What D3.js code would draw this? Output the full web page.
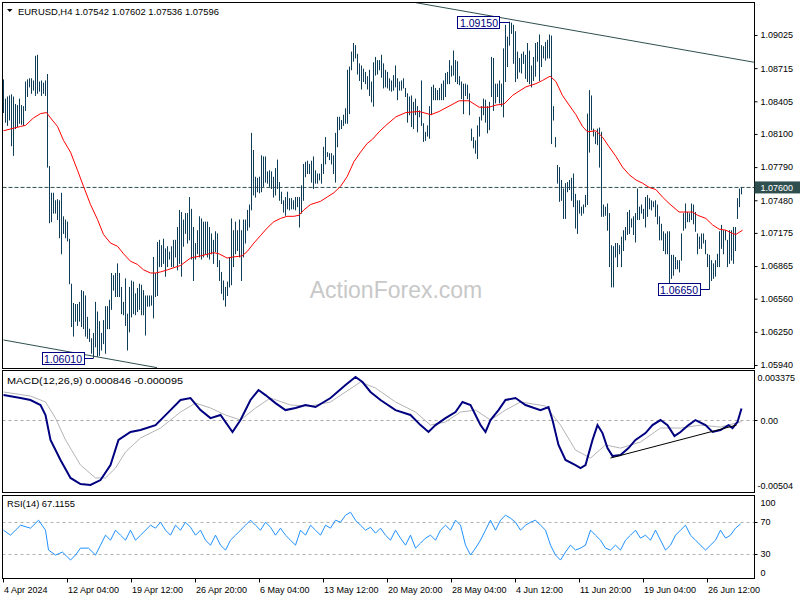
<!DOCTYPE html>
<html><head><meta charset="utf-8">
<script src="https://cdn.jsdelivr.net/npm/d3@7/dist/d3.min.js"></script>
<style>
html,body{margin:0;padding:0;background:#fff;}
svg{display:block;}
text{font-family:"Liberation Sans",Arial,sans-serif;}
</style></head>
<body>
<svg id="chart" width="800" height="600"></svg>
<script>
// ---------- DATA ----------
const symbolTitle = "EURUSD,H4";
const lastOHLC = ["1.07542","1.07602","1.07536","1.07596"];
const highs = [
1.0861,1.0843,1.0845,1.0846,1.0847,1.0845,1.0838,1.0837,1.0843,1.0837,
1.0836,1.0859,1.0861,1.0862,1.0862,1.0860,1.0883,1.0884,1.0859,1.0860,
1.0858,1.0860,1.0866,1.0780,1.0755,1.0755,1.0748,1.0749,1.0748,1.0755,
1.0733,1.0730,1.0728,1.0712,1.0670,1.0652,1.0651,1.0651,1.0653,1.0664,
1.0663,1.0659,1.0639,1.0628,1.0619,1.0624,1.0653,1.0644,1.0635,1.0624,
1.0636,1.0649,1.0649,1.0655,1.0680,1.0678,1.0680,1.0689,1.0680,1.0667,
1.0653,1.0675,1.0642,1.0667,1.0673,1.0672,1.0661,1.0666,1.0670,1.0669,
1.0664,1.0659,1.0659,1.0659,1.0659,1.0695,1.0680,1.0709,1.0711,1.0706,
1.0712,1.0703,1.0705,1.0700,1.0705,1.0711,1.0711,1.0723,1.0739,1.0737,
1.0730,1.0736,1.0736,1.0751,1.0740,1.0723,1.0708,1.0720,1.0733,1.0731,
1.0728,1.0728,1.0728,1.0723,1.0717,1.0711,1.0719,1.0717,1.0692,1.0681,
1.0673,1.0667,1.0672,1.0695,1.0731,1.0720,1.0728,1.0720,1.0730,1.0720,
1.0730,1.0730,1.0739,1.0744,1.0811,1.0795,1.0770,1.0769,1.0770,1.0790,
1.0789,1.0789,1.0775,1.0776,1.0775,1.0770,1.0778,1.0786,1.0765,1.0756,
1.0748,1.0751,1.0756,1.0750,1.0750,1.0748,1.0751,1.0751,1.0751,1.0762,
1.0782,1.0784,1.0785,1.0782,1.0785,1.0789,1.0776,1.0773,1.0773,1.0782,
1.0798,1.0807,1.0793,1.0792,1.0792,1.0790,1.0811,1.0826,1.0826,1.0823,
1.0828,1.0834,1.0870,1.0873,1.0887,1.0895,1.0893,1.0885,1.0876,1.0874,
1.0871,1.0868,1.0864,1.0870,1.0859,1.0877,1.0882,1.0879,1.0879,1.0884,
1.0876,1.0870,1.0868,1.0862,1.0860,1.0865,1.0874,1.0862,1.0859,1.0860,
1.0862,1.0853,1.0848,1.0845,1.0846,1.0840,1.0843,1.0836,1.0832,1.0860,
1.0820,1.0812,1.0818,1.0836,1.0854,1.0856,1.0853,1.0851,1.0853,1.0857,
1.0860,1.0867,1.0868,1.0879,1.0874,1.0888,1.0879,1.0878,1.0864,1.0859,
1.0857,1.0857,1.0856,1.0848,1.0815,1.0807,1.0804,1.0818,1.0826,1.0836,
1.0843,1.0842,1.0836,1.0840,1.0882,1.0881,1.0857,1.0857,1.0860,1.0857,
1.0890,1.0912,1.0901,1.0915,1.0914,1.0912,1.0906,1.0887,1.0881,1.0885,
1.0887,1.0884,1.0895,1.0888,1.0874,1.0882,1.0895,1.0896,1.0903,1.0893,
1.0892,1.0896,1.0898,1.0903,1.0902,1.0836,1.0807,1.0781,1.0779,1.0767,
1.0759,1.0764,1.0765,1.0767,1.0769,1.0773,1.0754,1.0748,1.0748,1.0742,
1.0744,1.0753,1.0829,1.0851,1.0846,1.0815,1.0812,1.0815,1.0816,1.0812,
1.0744,1.0742,1.0745,1.0736,1.0706,1.0705,1.0708,1.0708,1.0706,1.0714,
1.0720,1.0723,1.0737,1.0739,1.0731,1.0733,1.0736,1.0759,1.0742,1.0744,
1.0740,1.0751,1.0753,1.0750,1.0748,1.0747,1.0748,1.0744,1.0733,1.0726,
1.0719,1.0717,1.0719,1.0719,1.0697,1.0697,1.0695,1.0692,1.0692,1.0717,
1.0736,1.0745,1.0737,1.0736,1.0745,1.0744,1.0737,1.0717,1.0714,1.0717,
1.0717,1.0711,1.0698,1.0697,1.0692,1.0689,1.0692,1.0698,1.0719,1.0725,
1.0720,1.0720,1.0711,1.0720,1.0720,1.0723,1.0723,1.0750,1.0759,1.0760];
const lows = [
1.0830,1.0821,1.0818,1.0823,1.0799,1.0790,1.0815,1.0817,1.0820,1.0819,
1.0818,1.0832,1.0845,1.0854,1.0848,1.0851,1.0846,1.0848,1.0850,1.0846,
1.0848,1.0846,1.0779,1.0727,1.0728,1.0736,1.0736,1.0730,1.0713,1.0698,
1.0717,1.0713,1.0710,1.0670,1.0630,1.0621,1.0635,1.0631,1.0635,1.0630,
1.0628,1.0621,1.0619,1.0616,1.0605,1.0601,1.0611,1.0602,1.0603,1.0608,
1.0614,1.0605,1.0628,1.0628,1.0646,1.0664,1.0658,1.0658,1.0658,1.0642,
1.0641,1.0631,1.0608,1.0625,1.0639,1.0642,1.0641,1.0644,1.0646,1.0641,
1.0641,1.0622,1.0649,1.0649,1.0650,1.0638,1.0658,1.0659,1.0686,1.0686,
1.0689,1.0677,1.0686,1.0693,1.0686,1.0686,1.0695,1.0683,1.0689,1.0677,
1.0705,1.0717,1.0708,1.0711,1.0693,1.0673,1.0693,1.0698,1.0695,1.0693,
1.0695,1.0698,1.0695,1.0693,1.0698,1.0689,1.0700,1.0686,1.0673,1.0661,
1.0655,1.0649,1.0659,1.0667,1.0669,1.0686,1.0698,1.0701,1.0695,1.0673,
1.0695,1.0708,1.0720,1.0723,1.0739,1.0753,1.0751,1.0756,1.0755,1.0756,
1.0761,1.0765,1.0764,1.0761,1.0759,1.0751,1.0753,1.0759,1.0748,1.0745,
1.0737,1.0734,1.0740,1.0739,1.0740,1.0740,1.0739,1.0742,1.0723,1.0736,
1.0748,1.0770,1.0773,1.0773,1.0765,1.0759,1.0764,1.0764,1.0767,1.0764,
1.0773,1.0782,1.0789,1.0786,1.0782,1.0773,1.0765,1.0798,1.0814,1.0815,
1.0818,1.0820,1.0820,1.0829,1.0870,1.0878,1.0881,1.0866,1.0860,1.0852,
1.0859,1.0857,1.0852,1.0846,1.0840,1.0836,1.0865,1.0866,1.0870,1.0863,
1.0853,1.0854,1.0853,1.0851,1.0850,1.0851,1.0854,1.0842,1.0851,1.0851,
1.0853,1.0845,1.0821,1.0828,1.0817,1.0815,1.0828,1.0812,1.0826,1.0818,
1.0803,1.0804,1.0808,1.0806,1.0828,1.0842,1.0842,1.0842,1.0842,1.0842,
1.0842,1.0845,1.0857,1.0857,1.0864,1.0865,1.0859,1.0857,1.0856,1.0843,
1.0829,1.0846,1.0843,1.0828,1.0804,1.0797,1.0792,1.0787,1.0808,1.0823,
1.0828,1.0821,1.0811,1.0814,1.0845,1.0832,1.0839,1.0845,1.0839,1.0836,
1.0826,1.0859,1.0873,1.0893,1.0904,1.0876,1.0859,1.0862,1.0868,1.0867,
1.0876,1.0862,1.0859,1.0857,1.0854,1.0860,1.0864,1.0878,1.0860,1.0873,
1.0881,1.0879,1.0881,1.0881,1.0801,1.0823,1.0798,1.0764,1.0747,1.0748,
1.0731,1.0731,1.0756,1.0758,1.0748,1.0742,1.0722,1.0717,1.0736,1.0734,
1.0736,1.0742,1.0744,1.0793,1.0814,1.0808,1.0801,1.0800,1.0779,1.0733,
1.0733,1.0734,1.0720,1.0686,1.0667,1.0667,1.0695,1.0686,1.0698,1.0686,
1.0701,1.0711,1.0716,1.0717,1.0723,1.0716,1.0709,1.0730,1.0730,1.0736,
1.0731,1.0723,1.0733,1.0740,1.0739,1.0742,1.0733,1.0726,1.0711,1.0711,
1.0701,1.0698,1.0698,1.0666,1.0675,1.0678,1.0684,1.0684,1.0681,1.0692,
1.0720,1.0722,1.0728,1.0728,1.0730,1.0726,1.0719,1.0698,1.0703,1.0703,
1.0708,1.0698,1.0686,1.0665,1.0673,1.0675,1.0677,1.0686,1.0686,1.0703,
1.0698,1.0711,1.0686,1.0689,1.0692,1.0689,1.0701,1.0731,1.0742,1.0754];

// moving average (red) read at sample bars
const maIdx = [0,8.5,11,15,18.5,21.5,23.5,27,30,33.5,37,40,43.5,47,50,53.5,57,60,63.5,67,70,73.5,76,78.5,82,88.5,93.5,98.5,105,107.7,111.8,115,119.3,121.8,125.2,128.5,131.8,135.2,138.5,141.8,145.2,147.7,150.2,153.5,158.5,161.8,165.2,168.5,171.8,175.2,178.5,181.8,184.5,187.8,191.2,196.2,201.2,207.8,213.7,217.8,222.8,227.8,232.8,237.8,242.8,246.2,250.3,254.5,257.8,261.2,266.2,269.5,273.3,276.2,279.5,282.8,286.2,289.5,292,296.2,299.5,302.8,306.2,309.5,312.8,316.2,319.5,322.8,326.2,329.5,332.8,337.8,344.5,347,351.2,354.5,357.8,361.2,364.5,366.2,367.8,369.5];
const maVal = [1.0813,1.0817,1.0818,1.0825,1.0829,1.0830,1.0825,1.0817,1.0804,1.0793,1.0776,1.0761,1.0744,1.0730,1.0716,1.0708,1.0705,1.0698,1.0691,1.0688,1.0683,1.0680,1.0680,1.0681,1.0683,1.0687,1.0694,1.0696,1.0699,1.0698,1.0694,1.0695,1.0696,1.0700,1.0708,1.0715,1.0722,1.0728,1.0731,1.0733,1.0733,1.0734,1.0739,1.0744,1.0747,1.0751,1.0755,1.0761,1.0770,1.0784,1.0793,1.0801,1.0805,1.0812,1.0818,1.0826,1.0830,1.0831,1.0828,1.0831,1.0836,1.0841,1.0841,1.0835,1.0835,1.0837,1.0838,1.0846,1.0850,1.0854,1.0857,1.0860,1.0864,1.0859,1.0846,1.0837,1.0828,1.0817,1.0812,1.0813,1.0807,1.0798,1.0789,1.0779,1.0772,1.0767,1.0764,1.0760,1.0758,1.0751,1.0745,1.0737,1.0737,1.0734,1.0731,1.0725,1.0721,1.0720,1.0717,1.0716,1.0718,1.0720];

const currentPrice = 1.07600;
const priceTicks = [1.09025,1.08715,1.08405,1.08100,1.07790,1.07480,1.07175,1.06865,1.06560,1.06250,1.05940];
const upperTrendIdx = [206.2, 376], upperTrendVal = [1.09327, 1.08768];
const lowerTrendIdx = [0, 76.8], lowerTrendVal = [1.06174, 1.05915];
const markIdx = [253, 45, 353];
const markVal = [1.09150, 1.06010, 1.06650];
const markText = ["1.09150","1.06010","1.06650"];

// MACD(12,26,9)
const macdLabel = "MACD(12,26,9) 0.000846 -0.000095";
const macdIdx = [0,8.5,13.5,18.5,21,23.5,28.5,33.5,38.5,43.5,48.5,53.5,57.5,63.5,68.5,76,83.5,88.5,93.5,98.5,103.5,108.5,114.5,118.5,123.5,127.5,131,136,141,146,151,156,163.5,171,176,179.5,183.5,188.5,196,203.5,208.5,212.5,216,221,226,229.5,233.5,236,238.5,241,243.5,247.5,251,256,261,268.5,272.5,274.5,277.5,281,286,288.5,291,294.5,297,299.5,302,304.5,308.5,312.5,316,321,324.5,328.5,332,335.5,338.5,342.5,346,351,354.5,358.5,362.5,364.5,367,369];
const macdVal = [0.00180,0.00159,0.00145,0.00109,0.00038,-0.00140,-0.00283,-0.00411,-0.00454,-0.00461,-0.00426,-0.00319,-0.00140,-0.00083,-0.00069,-0.00034,0.00073,0.00145,0.00159,0.00073,0.00016,0.00038,-0.00083,0.00002,0.00145,0.00216,0.00180,0.00123,0.00073,0.00088,0.00109,0.00095,0.00159,0.00252,0.00309,0.00273,0.00202,0.00145,0.00073,0.00038,-0.00034,-0.00083,-0.00034,0.00016,0.00059,0.00131,0.00109,0.00038,-0.00034,-0.00083,0.00002,0.00073,0.00145,0.00159,0.00109,0.00073,0.00095,0.00002,-0.00176,-0.00283,-0.00319,-0.00340,-0.00319,-0.00140,-0.00034,-0.00091,-0.00198,-0.00255,-0.00247,-0.00198,-0.00140,-0.00091,-0.00034,0.00002,-0.00034,-0.00112,-0.00083,-0.00034,0.00002,-0.00034,-0.00083,-0.00069,-0.00034,-0.00055,-0.00012,0.000846];
const signalIdx = [0,13.5,21,26,31,38.5,46,51,56,61,68.5,78.5,88.5,96,103.5,111,118.5,126,133.5,143.5,153.5,163.5,171,178.5,186,196,206,213.5,221,228.5,236,243.5,251,258.5,271,278.5,286,293.5,301,308.5,318.5,328.5,338.5,348.5,358.5,369];
const signalVal = [0.00202,0.00173,0.00131,0.00016,-0.00140,-0.00319,-0.00411,-0.00411,-0.00340,-0.00226,-0.00126,-0.00055,0.00059,0.00123,0.00088,0.00038,0.00002,0.00088,0.00159,0.00109,0.00102,0.00131,0.00202,0.00273,0.00230,0.00131,0.00059,-0.00034,-0.00012,0.00059,0.00073,0.00002,0.00073,0.00131,0.00102,-0.00034,-0.00212,-0.00269,-0.00176,-0.00198,-0.00155,-0.00055,-0.00055,-0.00034,-0.00048,-0.000095];
const macdTrendIdx = [303.5, 366.5], macdTrendVal = [-0.00269, -0.00034];
const macdMax = 0.003375, macdMin = -0.00504;

// RSI(14)
const rsiLabel = "RSI(14) 67.1155";
const rsiIdx = [0,3.5,8.5,13.5,17.5,21,22.5,26,29.5,33.5,36,38.5,42.5,46,48.5,51,53.5,56,58.5,61,63.5,66,68.5,73.5,76,78.5,81,83.5,86,88.5,91,93.5,96,98.5,101,103.5,106,108.5,111,113.5,116,118.5,121,123.5,126,128.5,131,133.5,136,138.5,141,143.5,146,148.5,151,153.5,156,158.5,161,163.5,166,168.5,171,173.5,176,178.5,181,183.5,186,188.5,191,193.5,196,198.5,201,203.5,206,208.5,211,213.5,216,218.5,221,223.5,226,228.5,231,233.5,236,238.5,241,243.5,246,248.5,251,253.5,256,258.5,261,263.5,266,268.5,271,273.5,276,278.5,281,283.5,286,288.5,291,293.5,296,298.5,301,303.5,306,308.5,311,313.5,316,318.5,321,323.5,326,328.5,331,333.5,336,338.5,341,343.5,346,348.5,351,353.5,356,358.5,361,363.5,366,368.5];
const rsiVal = [59.4,53.2,65.6,61.9,71.8,59.4,34.7,28.5,32.2,22.3,28.5,37.1,37.1,28.5,40.8,53.2,47.0,59.4,53.2,47.0,59.4,47.0,53.2,65.6,61.9,69.3,59.4,53.2,65.6,59.4,69.3,63.1,53.2,59.4,47.0,40.8,53.2,40.8,34.7,47.0,53.2,59.4,65.6,71.8,65.6,59.4,69.3,63.1,53.2,61.9,53.2,47.0,40.8,59.4,53.2,65.6,59.4,53.2,65.6,61.9,71.8,69.3,78.0,81.7,71.8,65.6,59.4,63.1,55.7,61.9,53.2,47.0,59.4,49.5,40.8,53.2,37.1,43.3,49.5,53.2,47.0,59.4,65.6,59.4,71.8,65.6,40.8,28.5,37.1,47.0,59.4,71.8,59.4,71.8,78.0,74.3,69.3,59.4,65.6,69.3,71.8,65.6,59.4,40.8,28.5,22.3,32.2,40.8,34.7,37.1,40.8,59.4,53.2,47.0,37.1,34.7,40.8,34.7,47.0,53.2,59.4,49.5,53.2,47.0,59.4,47.0,34.7,40.8,53.2,59.4,65.6,53.2,47.0,40.8,34.7,40.8,47.0,59.4,49.5,53.2,61.9,67.1];
const rsiLevels = [70, 30];
const rsiAxisLabels = [100, 70, 30, 0];

// time axis
const timeTickIdx = [0,32,64,96,128,160,192,224,256,288,320,352];
const timeTickLabels = ["4 Apr 2024","12 Apr 04:00","19 Apr 12:00","26 Apr 20:00","6 May 04:00","13 May 12:00","20 May 20:00","28 May 04:00","4 Jun 12:00","11 Jun 20:00","19 Jun 04:00","26 Jun 12:00"];
const watermark = "ActionForex.com";

// ---------- LAYOUT ----------
const svg = d3.select("#chart");
const L = 2.5, R = 754.5;
const P = {main:[2.5,368.5], macd:[370.5,492.5], rsi:[495.5,578.5]};
const x = d3.scaleLinear().domain([0,369]).range([3.5,741.5]);
const y = d3.scaleLinear().domain([1.05940,1.09025]).range([365,35]);
const ym = d3.scaleLinear().domain([macdMin,macdMax]).range([491,373]);
const yr = d3.scaleLinear().domain([0,100]).range([578,497.5]);
const barColor = "#0f3d58", slate = "#2f4f4f";

const defs = svg.append("defs");
Object.entries(P).forEach(([k,[t,b]])=>{
  defs.append("clipPath").attr("id","clip-"+k).append("rect")
    .attr("x",L).attr("y",t).attr("width",R-L).attr("height",b-t);
});
svg.append("rect").attr("width",800).attr("height",600).attr("fill","#fff");

// ---- main panel ----
const gm = svg.append("g").attr("clip-path","url(#clip-main)");
gm.append("text").attr("x",396).attr("y",298).attr("text-anchor","middle")
  .attr("font-size",23).attr("fill","#c8c8c8").text(watermark);
gm.append("line").attr("x1",L).attr("x2",R).attr("y1",y(currentPrice)).attr("y2",y(currentPrice))
  .attr("stroke",slate).attr("stroke-dasharray","4,2");
gm.selectAll("line.bar").data(highs).join("line").attr("class","bar")
  .attr("x1",(d,i)=>x(i)).attr("x2",(d,i)=>x(i))
  .attr("y1",d=>y(d)).attr("y2",(d,i)=>y(lows[i])+0.5)
  .attr("stroke",barColor).attr("stroke-width",1);
const maLine = d3.line().x((d,i)=>x(maIdx[i])).y(d=>y(d));
gm.append("path").attr("d",maLine(maVal)).attr("fill","none").attr("stroke","#ff0000").attr("stroke-width",1);
[[upperTrendIdx,upperTrendVal],[lowerTrendIdx,lowerTrendVal]].forEach(([ii,vv])=>{
  gm.append("line").attr("x1",x(ii[0])).attr("y1",y(vv[0])).attr("x2",x(ii[1])).attr("y2",y(vv[1]))
    .attr("stroke",slate).attr("stroke-width",1);
});
markIdx.forEach((mi,k)=>{
  const bx = x(mi), by = Math.round(y(markVal[k]))+0.5;
  const w = 42, h = 12;
  gm.append("line").attr("x1",bx-10).attr("x2",bx).attr("y1",by).attr("y2",by).attr("stroke","#000080");
  gm.append("rect").attr("x",Math.round(bx-10-w)+0.5).attr("y",by-6).attr("width",w).attr("height",h)
    .attr("fill","#fff").attr("stroke","#000080");
  gm.append("text").attr("x",bx-10-w/2+0.5).attr("y",by+4).attr("text-anchor","middle")
    .attr("font-size",10.5).attr("fill","#000080").text(markText[k]);
});
// header
svg.append("path").attr("d","M7,9 L12.5,9 L9.75,12 Z").attr("fill","#000");
svg.append("text").attr("x",18).attr("y",14.5).attr("font-size",9.5).attr("fill","#000")
  .attr("textLength",201).attr("lengthAdjust","spacingAndGlyphs")
  .text(symbolTitle+"  "+lastOHLC.join(" "));

// ---- MACD panel ----
const gd = svg.append("g").attr("clip-path","url(#clip-macd)");
gd.append("line").attr("x1",L).attr("x2",R).attr("y1",Math.round(ym(0))+0.5).attr("y2",Math.round(ym(0))+0.5)
  .attr("stroke","#a9a9a9").attr("stroke-dasharray","3,3");
const lineM = d3.line().x((d,i)=>x(macdIdx[i])).y(d=>ym(d));
const lineS = d3.line().x((d,i)=>x(signalIdx[i])).y(d=>ym(d));
gd.append("path").attr("d",lineS(signalVal)).attr("fill","none").attr("stroke","#b4b4b4").attr("stroke-width",1);
gd.append("path").attr("d",lineM(macdVal)).attr("fill","none").attr("stroke","#000080").attr("stroke-width",2);
gd.append("line").attr("x1",x(macdTrendIdx[0])).attr("y1",ym(macdTrendVal[0]))
  .attr("x2",x(macdTrendIdx[1])).attr("y2",ym(macdTrendVal[1])).attr("stroke","#000").attr("stroke-width",1);

// ---- RSI panel ----
const gr = svg.append("g").attr("clip-path","url(#clip-rsi)");
rsiLevels.forEach(v=>{
  gr.append("line").attr("x1",L).attr("x2",R).attr("y1",Math.round(yr(v))+0.5).attr("y2",Math.round(yr(v))+0.5)
    .attr("stroke","#b4b4b4").attr("stroke-dasharray","3,3");
});
const lineR = d3.line().x((d,i)=>x(rsiIdx[i])).y(d=>yr(d));
gr.append("path").attr("d",lineR(rsiVal)).attr("fill","none").attr("stroke","#1e90ff").attr("stroke-width",1);

// ---- frames ----
Object.values(P).forEach(([t,b])=>{
  svg.append("rect").attr("x",L).attr("y",t).attr("width",R-L).attr("height",b-t)
    .attr("fill","none").attr("stroke","#000").attr("stroke-width",1);
});
svg.append("text").attr("x",7).attr("y",384).attr("font-size",9.8).attr("fill","#000")
  .attr("textLength",176).attr("lengthAdjust","spacingAndGlyphs").text(macdLabel);
svg.append("text").attr("x",7).attr("y",507).attr("font-size",9.5).attr("fill","#000")
  .attr("textLength",68).attr("lengthAdjust","spacingAndGlyphs").text(rsiLabel);

// ---- right axes ----
const axMain = svg.append("g").attr("transform",`translate(${R},0)`)
  .call(d3.axisRight(y).tickValues(priceTicks).tickSize(3).tickPadding(3).tickFormat(d3.format(".5f")));
axMain.select(".domain").remove();
axMain.selectAll("text").attr("font-size",9).attr("font-family","Liberation Sans, Arial, sans-serif").attr("fill","#000");
axMain.selectAll("line").attr("stroke","#000");
// current price tag
const cy = y(currentPrice);
svg.append("rect").attr("x",R).attr("y",cy-6).attr("width",800-R).attr("height",12).attr("fill",slate);
svg.append("text").attr("x",R+6).attr("y",cy+3.5).attr("font-size",9).attr("fill","#fff").text(d3.format(".5f")(currentPrice));

// MACD axis labels
svg.append("text").attr("x",R+3).attr("y",ym(macdMax)+8).attr("font-size",9).text(String(macdMax));
svg.append("line").attr("x1",R).attr("x2",R+3).attr("y1",Math.round(ym(0))+0.5).attr("y2",Math.round(ym(0))+0.5).attr("stroke","#000");
svg.append("text").attr("x",R+6).attr("y",ym(0)+3.5).attr("font-size",9).text(d3.format(".2f")(0));
svg.append("text").attr("x",R+3).attr("y",ym(macdMin)-2).attr("font-size",9).text(String(macdMin));

// RSI axis labels
rsiAxisLabels.forEach(v=>{
  let yy = yr(v);
  if (v===100) yy += 5; if (v===0) yy -= 6;
  if (v===70||v===30) svg.append("line").attr("x1",R).attr("x2",R+3).attr("y1",Math.round(yr(v))+0.5).attr("y2",Math.round(yr(v))+0.5).attr("stroke","#000");
  svg.append("text").attr("x",R+6).attr("y",yy+3.5).attr("font-size",9).text(v);
});

// ---- time axis ----
timeTickIdx.forEach((ti,k)=>{
  const tx = Math.round(x(ti)-1)+0.5;
  svg.append("line").attr("x1",tx).attr("x2",tx).attr("y1",578.5).attr("y2",582.5).attr("stroke","#000");
  svg.append("text").attr("x",tx+0.5).attr("y",593).attr("font-size",9).attr("fill","#000").text(timeTickLabels[k]);
});
</script>
</body></html>
